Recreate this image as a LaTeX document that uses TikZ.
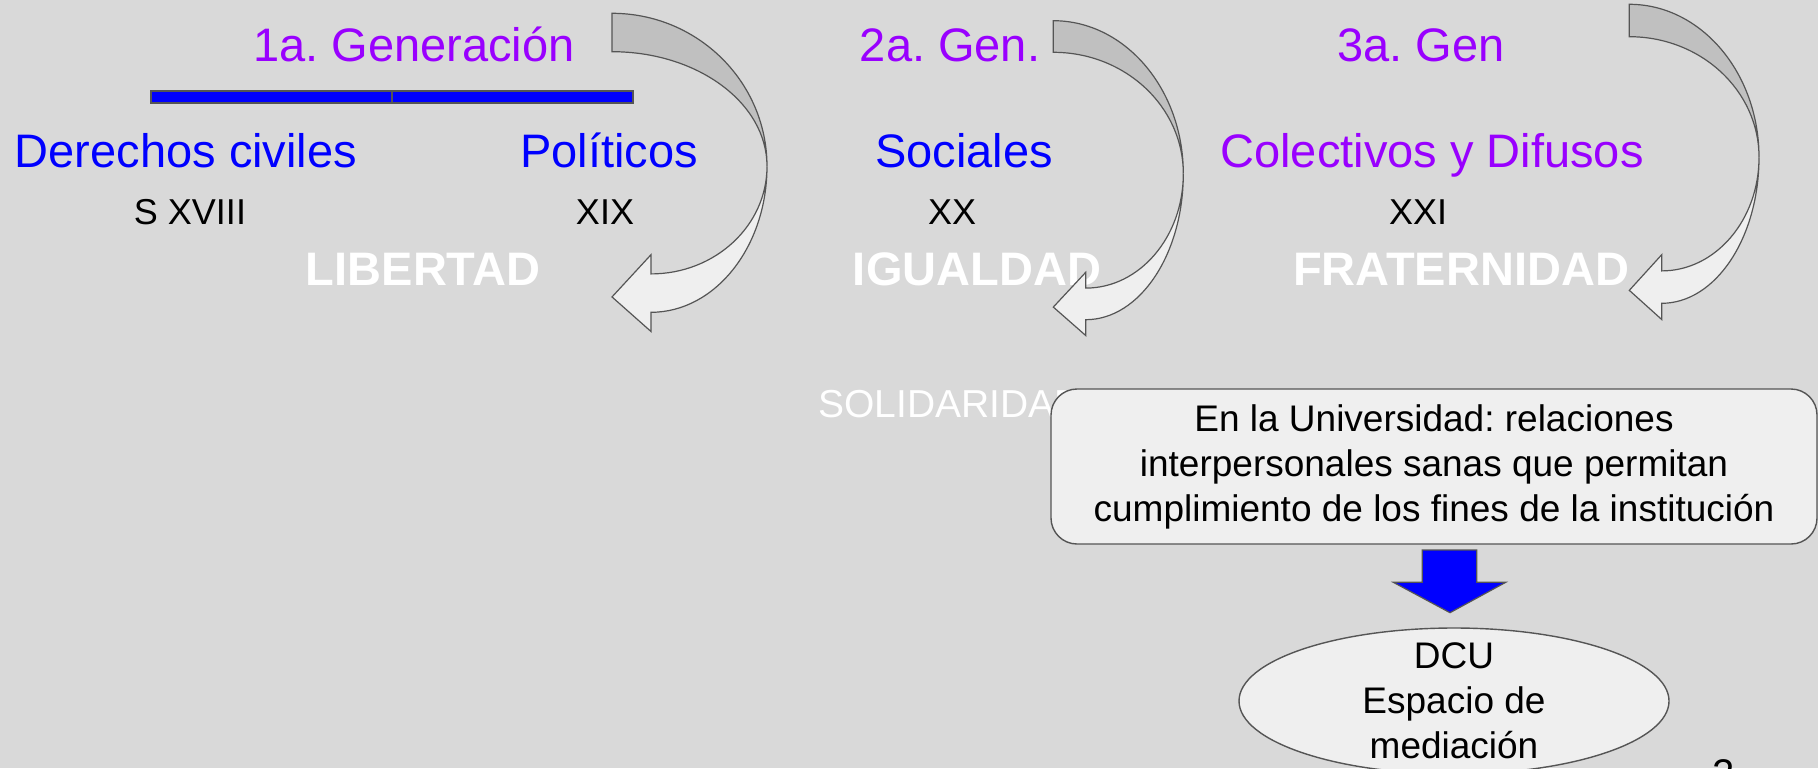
\documentclass[tikz,border=0pt]{standalone}
\usepackage{fontspec}
\setmainfont{Liberation Sans}
\usetikzlibrary{shapes.geometric}
\definecolor{slidebg}{RGB}{217,217,217}
\definecolor{genviolet}{RGB}{153,0,255}
\definecolor{edgegray}{RGB}{85,85,85}
\definecolor{bandtopfill}{RGB}{192,192,192}
\definecolor{bandlowfill}{RGB}{239,239,239}
\frenchspacing
\newcommand{\txtbig}{\fontsize{23.5}{28}\selectfont}
\newcommand{\txtsmall}{\fontsize{18}{22}\selectfont}
\newcommand{\txtbox}{\fontsize{18.5}{22.5}\selectfont}
\newcommand{\txtsol}{\fontsize{19.5}{23}\selectfont}
% curved arrow: tail corner (#1,#2), width #3, band #4, head x #5
\newcommand{\genarrow}[5]{%
  \begin{scope}[shift={(#1,#2)}]
    \filldraw[bandtop] (0,0) arc[start angle=90, end angle=0, x radius=#3, y radius=153]
      arc[start angle=0, end angle=90, x radius=#3, y radius={153-#4}] -- cycle;
    \filldraw[bandlow] (#3,-153) arc[start angle=0, end angle=-90, x radius={#3-#5}, y radius=146]
      -- (#5,{-299-#4/2}) -- (0,{-299+0.4*#4}) -- (#5,{-299+1.5*#4}) -- (#5,{-299+#4})
      arc[start angle=-90, end angle=0, x radius={#3-#5}, y radius={146-#4}] -- cycle;
  \end{scope}}

\begin{document}
\begin{tikzpicture}[x=0.5pt, y=0.5pt,
    lbl/.style={inner sep=0pt, anchor=base},
    gen/.style={lbl, text=genviolet, font=\txtbig},
    kind/.style={lbl, text=blue, font=\txtbig},
    era/.style={lbl, font=\txtsmall},
    ideal/.style={lbl, text=white, font={\txtbig\bfseries}},
    genbar/.style={fill=blue, draw=edgegray, line width=0.7pt},
    bandtop/.style={fill=bandtopfill, draw=edgegray, line width=0.6pt},
    bandlow/.style={fill=bandlowfill, draw=edgegray, line width=0.6pt},
    panel/.style={fill=bandlowfill, draw=edgegray, line width=0.7pt}]
  \useasboundingbox (0,0) rectangle (1818,768);
  \clip (0,0) rectangle (1818,768);
  \fill[slidebg] (0,0) rectangle (1818,768);

  \node[gen] (g1) at (414,706) {1a. Generación};
  \node[gen] (g2) at (950,706) {2a. Gen.};
  \node[gen] (g3) at (1421,706) {3a. Gen};
  \draw[genbar] (151,665) rectangle (392,677);
  \draw[genbar] (392,665) rectangle (633,677);

  \node[kind] (civ) at (186,601) {Derechos civiles};
  \node[kind] (pol) at (609,601) {Políticos};
  \node[kind] (soc) at (964,601) {Sociales};
  \node[gen] (col) at (1432,601) {Colectivos y Difusos};

  \node[era] (s18) at (190,544) {S XVIII};
  \node[era] (s19) at (605,544) {XIX};
  \node[era] (s20) at (952,544) {XX};
  \node[era] (s21) at (1418,544) {XXI};

  \node[ideal] (lib) at (423,483) {LIBERTAD};
  \node[ideal] (igu) at (977,483) {IGUALDAD};
  \node[ideal] (fra) at (1461,483) {FRATERNIDAD};
  \node[lbl, anchor=base west, text=white, font=\txtsol] (sol) at (818,351) {SOLIDARIDAD};

  \genarrow{612}{754.7}{155}{38.4}{39}
  \genarrow{1053.3}{747.3}{130}{31.6}{32.4}
  \genarrow{1629.3}{763.7}{129.7}{32.4}{32.4}

  \node[panel, rounded corners=13pt, minimum width=383pt, minimum height=77.5pt,
    align=center, font=\txtbox] (univ) at (1434,301.5)
    {En la Universidad: relaciones\\interpersonales sanas que permitan\\cumplimiento de los fines de la institución};
  \filldraw[fill=blue, draw=edgegray, line width=0.6pt] (1422.3,218) -- (1476.7,218) -- (1476.7,185.7)
    -- (1505.7,185.7) -- (1450,155.3) -- (1393.3,185.7) -- (1422.3,185.7) -- cycle;
  \draw[panel] (1454,67) ellipse [x radius=215, y radius=73];
  \node[inner sep=0pt, align=center, font=\txtbox] (dcu) at (1454,67) {DCU\\Espacio de\\mediación};
  \node[inner sep=0pt, anchor=north west, font=\fontsize{20}{24}\selectfont] (pagenum) at (1712,9) {2};
\end{tikzpicture}
\end{document}
